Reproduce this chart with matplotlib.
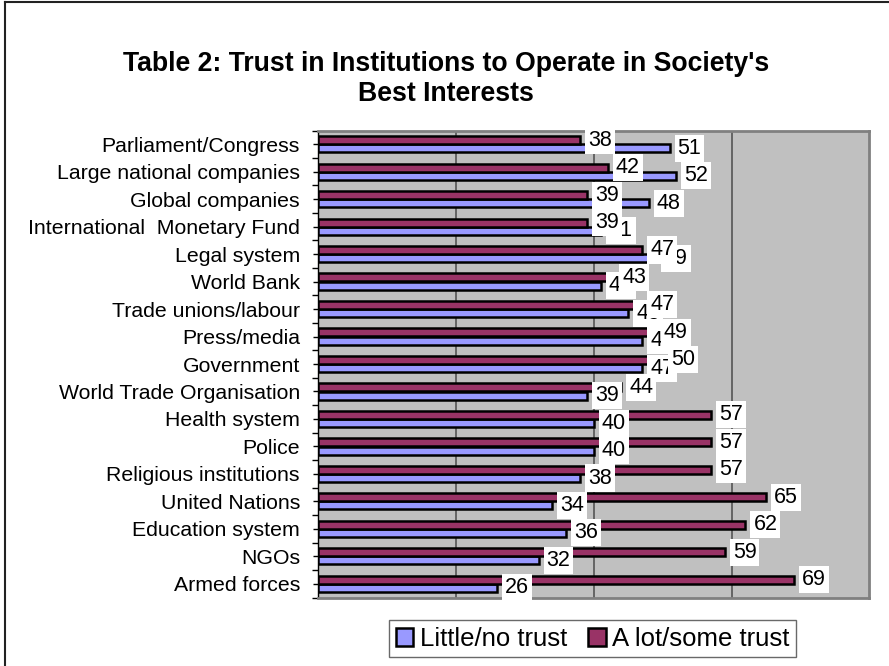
import matplotlib
matplotlib.use("Agg")
import matplotlib.pyplot as plt
from matplotlib.lines import Line2D
from matplotlib.ticker import FixedLocator
import numpy as np

plt.rcParams['font.family'] = ['Liberation Sans', 'DejaVu Sans']

categories = ["Parliament/Congress", "Large national companies", "Global companies",
              "International  Monetary Fund", "Legal system", "World Bank",
              "Trade unions/labour", "Press/media", "Government",
              "World Trade Organisation", "Health system", "Police",
              "Religious institutions", "United Nations", "Education system",
              "NGOs", "Armed forces"]
little_no_trust = [51, 52, 48, 41, 49, 41, 45, 47, 47, 39, 40, 40, 38, 34, 36, 32, 26]
lot_some_trust = [38, 42, 39, 39, 47, 43, 47, 49, 50, 44, 57, 57, 57, 65, 62, 59, 69]
series_names = ["Little/no trust", "A lot/some trust"]
title_lines = ["Table 2: Trust in Institutions to Operate in Society's", "Best Interests"]

W, H = 889, 666
fig = plt.figure(figsize=(W / 100, H / 100), dpi=100)
fig.patch.set_facecolor('white')

L, R, T, B = 318, 869.5, 130.5, 597.5
ax = fig.add_axes([L / W, 1 - B / H, (R - L) / W, (B - T) / H])
ax.set_facecolor('#C0C0C0')

blue = '#9999FF'
red = '#993366'
y = np.arange(len(categories))
h = 0.29
off = 0.15
b1 = ax.barh(y + off, little_no_trust, height=h, color=blue, edgecolor='black',
             linewidth=1.8, zorder=3, label=series_names[0])
b2 = ax.barh(y - off, lot_some_trust, height=h, color=red, edgecolor='black',
             linewidth=1.8, zorder=3, label=series_names[1])

ax.set_xlim(0, 80)
ax.set_ylim(len(categories) - 0.5, -0.5)

for yy, v in zip(y + off, little_no_trust):
    ax.annotate(str(v), (v, yy), xytext=(8, 0), textcoords='offset pixels',
                ha='left', va='center', fontsize=15.5, zorder=5,
                bbox=dict(boxstyle='square,pad=0.14', fc='white', ec='none'))
for yy, v in zip(y - off, lot_some_trust):
    ax.annotate(str(v), (v, yy), xytext=(8, 0), textcoords='offset pixels',
                ha='left', va='center', fontsize=15.5, zorder=6,
                bbox=dict(boxstyle='square,pad=0.14', fc='white', ec='none'))

# grid
ax.xaxis.set_major_locator(FixedLocator([20, 40, 60]))
ax.grid(axis='x', color='#555555', linewidth=1.2, zorder=1)
ax.set_axisbelow(True)
ax.tick_params(axis='x', length=0, labelbottom=False)

ax.set_yticks(y)
ax.set_yticklabels(categories, fontsize=15.3)
ax.yaxis.set_minor_locator(FixedLocator(np.arange(-0.5, len(categories), 1.0)))
ax.tick_params(axis='y', which='major', length=3.4, width=1, direction='out', pad=9.6)
ax.tick_params(axis='y', which='minor', length=4.5, width=1, direction='out')

for s in ['top', 'right', 'bottom']:
    ax.spines[s].set_color('#808080')
    ax.spines[s].set_linewidth(2)
ax.spines['left'].set_color('black')
ax.spines['left'].set_linewidth(1)

# title
cx = 446 / W
fig.text(cx, 1 - 71 / H, title_lines[0], ha='center', va='baseline',
         fontsize=19.2, fontweight='bold')
fig.text(cx, 1 - 101 / H, title_lines[1], ha='center', va='baseline',
         fontsize=19.2, fontweight='bold')

# legend
leg = fig.legend(handles=[b1, b2], labels=series_names, loc='center',
                 bbox_to_anchor=(592.5 / W, 1 - 638.5 / H), ncol=2, fontsize=18.5,
                 frameon=True, fancybox=False, handlelength=0.7, handleheight=0.7,
                 handletextpad=0.25, columnspacing=0.8, borderpad=0.25,
                 borderaxespad=0)
leg.get_frame().set_edgecolor('#444444')
leg.get_frame().set_linewidth(1)

# figure border (top and left visible)
fig.add_artist(Line2D([5 / W, 5 / W], [0, 1 - 2 / H], transform=fig.transFigure,
                      color='#222222', linewidth=1.5))
fig.add_artist(Line2D([5 / W, 1], [1 - 2 / H, 1 - 2 / H], transform=fig.transFigure,
                      color='#222222', linewidth=1.5))

fig.savefig('out.png', dpi=100)
